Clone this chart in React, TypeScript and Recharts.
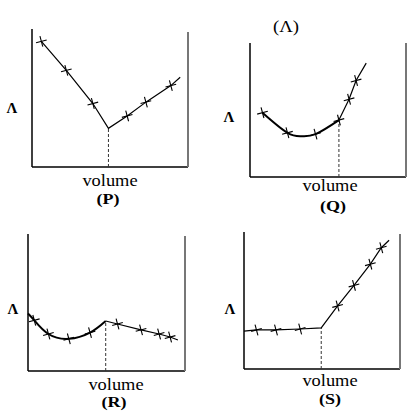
import { ComposedChart, Line, Scatter, XAxis, YAxis, ReferenceLine } from 'recharts';

// volume / conductance, both axes on a 0-10 scale

// (P) straight fall then straight rise
const pVolume = [0.6, 2.2, 3.9, 4.9, 6.1, 7.3, 8.9, 9.5];
const pCond = [9.1, 7.0, 4.6, 2.8, 3.7, 4.7, 5.9, 6.5];
const pMarks = [0, 1, 2, 4, 5, 6];

// (Q) curved dip then straight rise
const qCurveVolume = [0.8, 2.4, 3.3, 4.2, 5.7];
const qCurveCond = [4.8, 3.3, 3.05, 3.2, 4.25];
const qLineVolume = [5.7, 6.35, 6.8, 7.45];
const qLineCond = [4.25, 5.8, 7.2, 8.5];
const qMarkVolume = [0.8, 2.4, 4.2, 5.7, 6.35, 6.8];
const qMarkCond = [4.8, 3.3, 3.2, 4.25, 5.8, 7.2];

// (R) curved dip, peak, then slow fall
const rCurveVolume = [0, 0.4, 1.3, 2.6, 3.95, 4.95];
const rCurveCond = [4.2, 3.7, 2.7, 2.35, 2.8, 3.65];
const rLineVolume = [4.95, 5.7, 7.2, 8.35, 9.05, 9.55];
const rLineCond = [3.65, 3.43, 3.0, 2.7, 2.48, 2.26];
const rMarkVolume = [0.4, 1.3, 2.6, 3.95, 5.7, 7.2, 8.35, 9.05];
const rMarkCond = [3.7, 2.7, 2.35, 2.8, 3.43, 3.0, 2.7, 2.48];

// (S) flat then steep rise
const sVolume = [0, 0.8, 2.05, 3.6, 4.95, 6.0, 7.05, 8.1, 8.8, 9.3];
const sCond = [2.77, 2.85, 2.85, 2.92, 3.0, 4.6, 6.1, 7.65, 8.85, 9.4];
const sMarks = [1, 2, 3, 5, 6, 7, 8];

const zip = (xs: number[], ys: number[]) => xs.map((x, i) => ({ v: x, c: ys[i] }));
const pick = (xs: number[], ys: number[], idx: number[]) => idx.map((i) => ({ v: xs[i], c: ys[i] }));

const FONT = '"Liberation Serif", "DejaVu Serif", serif';

function Cross(props: any) {
  const { cx, cy } = props;
  return (
    <g transform={`rotate(-15 ${cx} ${cy})`} stroke="#000" strokeWidth={1.1}>
      <line x1={cx - 5.5} y1={cy} x2={cx + 5.5} y2={cy} />
      <line x1={cx} y1={cy - 5.5} x2={cx} y2={cy + 5.5} />
    </g>
  );
}

interface Box { left: number; right: number; top: number; bottom: number; rightTop: number }

interface PanelProps {
  box: Box;
  curve?: { v: number; c: number }[];
  line: { v: number; c: number }[];
  marks: { v: number; c: number }[];
  drop: { v: number; c: number };
}

function Panel({ box, curve, line, marks, drop }: PanelProps) {
  const pad = 10;
  const w = box.right - box.left;
  const h = box.bottom - box.top;
  const rightTop = ((box.bottom - box.rightTop) / h) * 10;
  return (
    <div style={{ position: 'absolute', left: box.left - pad, top: box.top - pad }}>
      <ComposedChart width={w + pad * 2} height={h + pad * 2} margin={{ top: pad, right: pad, bottom: pad, left: pad }}>
        <XAxis type="number" dataKey="v" domain={[0, 10]} hide />
        <YAxis type="number" dataKey="c" domain={[0, 10]} hide />
        <ReferenceLine segment={[{ x: 0, y: 0 }, { x: 0, y: 10 }]} stroke="#000" strokeWidth={1.5} />
        <ReferenceLine segment={[{ x: 0, y: 0 }, { x: 10, y: 0 }]} stroke="#000" strokeWidth={1.5} />
        <ReferenceLine segment={[{ x: 10, y: 0 }, { x: 10, y: rightTop }]} stroke="#777" strokeWidth={2} />
        <ReferenceLine segment={[{ x: drop.v, y: 0 }, { x: drop.v, y: drop.c }]} stroke="#333" strokeDasharray="3 2" />
        {curve && (
          <Line data={curve} dataKey="c" type="natural" stroke="#000" strokeWidth={2} dot={false} isAnimationActive={false} />
        )}
        <Line data={line} dataKey="c" type="linear" stroke="#000" strokeWidth={1.2} dot={false} isAnimationActive={false} />
        <Scatter data={marks} dataKey="c" shape={<Cross />} isAnimationActive={false} />
      </ComposedChart>
    </div>
  );
}

function Label({ x, y, text, size, bold, scale = 1 }: { x: number; y: number; text: string; size: number; bold?: boolean; scale?: number }) {
  return (
    <div
      style={{
        position: 'absolute', left: x, top: y, transform: `translate(-50%, -50%) scaleX(${scale})`,
        fontFamily: FONT, fontSize: size, fontWeight: bold ? 'bold' : 'normal', lineHeight: 1, whiteSpace: 'nowrap', color: '#000',
      }}
    >
      {text}
    </div>
  );
}

export default function App() {
  return (
    <div style={{ position: 'absolute', left: 0, top: 0, width: 415, height: 415, background: '#fff', overflow: 'hidden' }}>
      <Panel
        box={{ left: 32, right: 188, top: 29, bottom: 167, rightTop: 32 }}
        line={zip(pVolume, pCond)}
        marks={pick(pVolume, pCond, pMarks)}
        drop={{ v: pVolume[3], c: pCond[3] }}
      />
      <Panel
        box={{ left: 250, right: 406, top: 43, bottom: 177, rightTop: 43 }}
        curve={zip(qCurveVolume, qCurveCond)}
        line={zip(qLineVolume, qLineCond)}
        marks={zip(qMarkVolume, qMarkCond)}
        drop={{ v: qLineVolume[0], c: qLineCond[0] }}
      />
      <Panel
        box={{ left: 28, right: 185, top: 234, bottom: 371, rightTop: 236 }}
        curve={zip(rCurveVolume, rCurveCond)}
        line={zip(rLineVolume, rLineCond)}
        marks={zip(rMarkVolume, rMarkCond)}
        drop={{ v: rLineVolume[0], c: rLineCond[0] }}
      />
      <Panel
        box={{ left: 244, right: 400, top: 232, bottom: 369, rightTop: 234 }}
        line={zip(sVolume, sCond)}
        marks={pick(sVolume, sCond, sMarks)}
        drop={{ v: sVolume[4], c: sCond[4] }}
      />

      <Label x={12} y={108} text="Λ" size={15} bold />
      <Label x={110} y={181} text="volume" size={16} scale={1.15} />
      <Label x={108} y={199} text="(P)" size={15} bold scale={1.2} />

      <Label x={286} y={26} text="(Λ)" size={17} scale={1.1} />
      <Label x={229} y={117} text="Λ" size={15} bold />
      <Label x={330} y={186} text="volume" size={16} scale={1.15} />
      <Label x={333} y={206} text="(Q)" size={15} bold scale={1.2} />

      <Label x={13} y={309} text="Λ" size={15} bold />
      <Label x={116} y={385} text="volume" size={16} scale={1.15} />
      <Label x={114} y={402} text="(R)" size={15} bold scale={1.2} />

      <Label x={230} y={309} text="Λ" size={15} bold />
      <Label x={330} y={381} text="volume" size={16} scale={1.15} />
      <Label x={330} y={399} text="(S)" size={15} bold scale={1.2} />
    </div>
  );
}
